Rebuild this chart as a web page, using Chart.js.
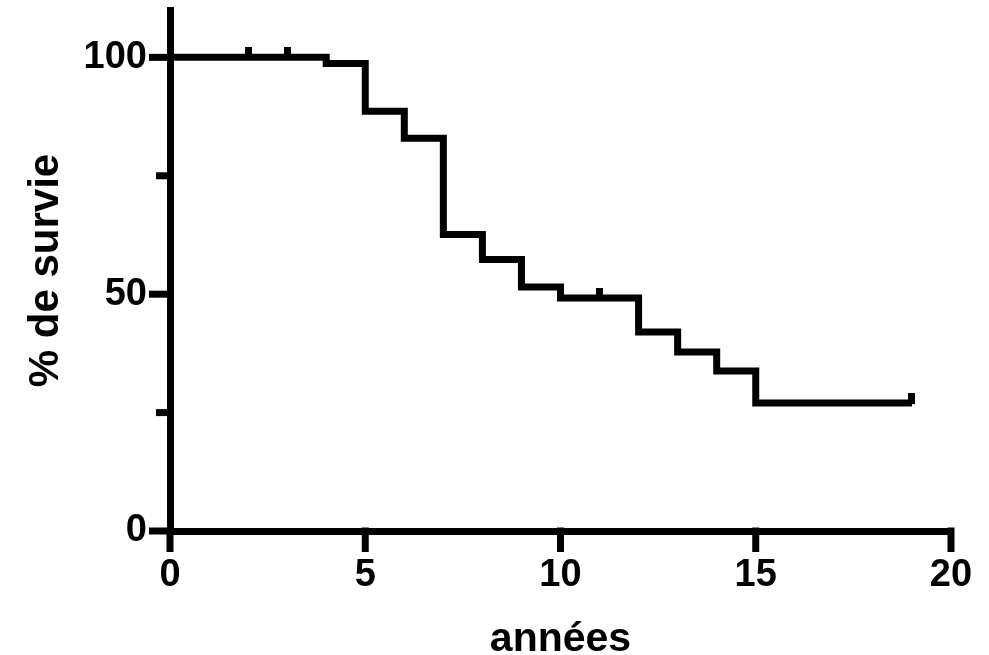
<!DOCTYPE html>
<html lang="fr">
<head>
<meta charset="utf-8">
<title>% de survie</title>
<script src="https://cdn.jsdelivr.net/npm/chart.js@4.4.1/dist/chart.umd.min.js"></script>
<style>
  html, body { margin: 0; padding: 0; background: #fff; }
  #wrap { width: 989px; height: 655px; position: relative; }
</style>
</head>
<body>
<div id="wrap"><canvas id="chart"></canvas></div>
<script>
// temps des événements (années) et survie (%) après chaque événement
const annees = [0, 4, 5, 6, 7, 8, 9, 10, 12, 13, 14, 15, 19];
const survie = [100, 98.7, 88.6, 82.9, 62.6, 57.3, 51.5, 49.2, 42.0, 37.8, 33.8, 27.0, 27.0];

// observations censurées
const censureAnnees = [2, 3, 11, 19];
const censureSurvie = [100, 100, 49.2, 27.0];

// graduations
const xTicks = [0, 5, 10, 15, 20];
const yTicks = [0, 25, 50, 75, 100];
const yLabels = [0, 50, 100];

const FONT = "'Liberation Sans', Arial, Helvetica, sans-serif";

// petit trait vertical pour les censures
const censureMark = document.createElement('canvas');
censureMark.width = 7;
censureMark.height = 20;
const mctx = censureMark.getContext('2d');
mctx.fillStyle = '#000';
mctx.fillRect(0, 0, 7, 11);

// graduations des axes (majeures / mineures)
const axisTicks = {
  id: 'axisTicks',
  afterDraw(chart) {
    const { ctx, chartArea, scales: { x, y } } = chart;
    ctx.save();
    ctx.strokeStyle = '#000';
    ctx.lineWidth = 7;
    ctx.lineCap = 'butt';
    xTicks.forEach(v => {
      const px = x.getPixelForValue(v);
      ctx.beginPath();
      ctx.moveTo(px, chartArea.bottom - 3.5);
      ctx.lineTo(px, chartArea.bottom + 21);
      ctx.stroke();
    });
    yTicks.forEach(v => {
      const py = y.getPixelForValue(v);
      const len = yLabels.includes(v) ? 21 : 14;
      ctx.beginPath();
      ctx.moveTo(chartArea.left + 3.5, py);
      ctx.lineTo(chartArea.left - len, py);
      ctx.stroke();
    });
    ctx.restore();
  }
};

new Chart(document.getElementById('chart'), {
  type: 'line',
  data: {
    datasets: [
      {
        data: annees.map((t, i) => ({ x: t, y: survie[i] })),
        stepped: true,
        borderColor: '#000',
        borderWidth: 7,
        borderJoinStyle: 'miter',
        borderCapStyle: 'butt',
        pointRadius: 0,
        fill: false,
        clip: false
      },
      {
        type: 'scatter',
        data: censureAnnees.map((t, i) => ({ x: t, y: censureSurvie[i] })),
        pointStyle: censureMark,
        pointRadius: 5,
        clip: false
      }
    ]
  },
  options: {
    responsive: true,
    maintainAspectRatio: false,
    animation: false,
    layout: { padding: { top: 10, right: 38, left: 0, bottom: 0 } },
    plugins: { legend: { display: false }, tooltip: { enabled: false } },
    scales: {
      x: {
        type: 'linear',
        min: 0,
        max: 20,
        afterBuildTicks: s => { s.ticks = xTicks.map(v => ({ value: v })); },
        afterFit: s => { s.height = 124; s.paddingLeft = 0; s.paddingRight = 0; },
        grid: { display: false, drawTicks: false },
        border: { display: true, color: '#000', width: 7 },
        ticks: {
          color: '#000',
          padding: 22,
          maxRotation: 0,
          autoSkip: false,
          font: { family: FONT, size: 38, weight: 'bold' }
        },
        title: {
          display: true,
          text: 'années',
          color: '#000',
          padding: { top: 0, bottom: -5 },
          font: { family: FONT, size: 41, weight: 'bold', lineHeight: 1 }
        }
      },
      y: {
        min: 0,
        max: 110,
        afterBuildTicks: s => { s.ticks = yTicks.map(v => ({ value: v })); },
        afterFit: s => { s.width = 170; s.paddingTop = 0; s.paddingBottom = 0; },
        grid: { display: false, drawTicks: false },
        border: { display: true, color: '#000', width: 7 },
        ticks: {
          color: '#000',
          padding: 23,
          autoSkip: false,
          callback: v => (yLabels.includes(v) ? v : ''),
          font: { family: FONT, size: 38, weight: 'bold' }
        },
        title: {
          display: true,
          text: '% de survie',
          color: '#000',
          padding: { top: 25, bottom: 0 },
          font: { family: FONT, size: 42, weight: 'bold', lineHeight: 1 }
        }
      }
    }
  },
  plugins: [axisTicks]
});
</script>
</body>
</html>
